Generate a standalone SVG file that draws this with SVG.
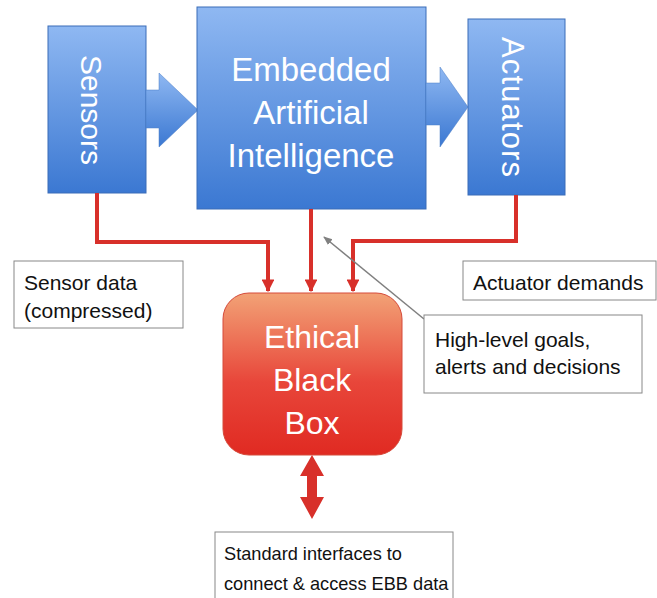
<svg xmlns="http://www.w3.org/2000/svg" width="657" height="598" viewBox="0 0 657 598">
<defs>
<linearGradient id="blue" x1="0" y1="0" x2="0" y2="1">
<stop offset="0" stop-color="#8fb8f2"/>
<stop offset="1" stop-color="#3b78d2"/>
</linearGradient>
<linearGradient id="red" x1="0" y1="0" x2="0" y2="1">
<stop offset="0" stop-color="#f2a276"/>
<stop offset="0.55" stop-color="#e8463a"/>
<stop offset="1" stop-color="#e02a22"/>
</linearGradient>
<marker id="rh" viewBox="0 0 10 10" refX="9" refY="5" markerWidth="3.2" markerHeight="3.2" orient="auto" markerUnits="strokeWidth">
<path d="M0,0 L10,5 L0,10 Z" fill="#d8302a"/>
</marker>
<marker id="gh" viewBox="0 0 10 10" refX="9" refY="5" markerWidth="6" markerHeight="6" orient="auto" markerUnits="strokeWidth">
<path d="M0,1 L10,5 L0,9 Z" fill="#808080"/>
</marker>
</defs>
<style>
.bx{fill:url(#blue);stroke:#3a6db8;stroke-width:1}
.wt{font-family:"Liberation Sans",Arial,sans-serif;fill:#fff;text-anchor:middle}
.lbl{fill:#fff;stroke:#888;stroke-width:1}
.lt{font-family:"Liberation Sans",Arial,sans-serif;fill:#111;font-size:21px}
.lt.sm{font-size:18.2px}
.red{fill:none;stroke:#d8302a;stroke-width:4;marker-end:url(#rh)}
</style>
<rect width="657" height="598" fill="#fff"/>

<g id="sensors">
<rect class="bx" x="48" y="26" width="98" height="167"/>
<text class="wt" font-size="30" transform="translate(81,110) rotate(90)" x="0" y="0">Sensors</text>
</g>
<g id="sensors-arrow">
<path d="M146,90 L159,90 L159,73 L198,110 L159,147 L159,128 L146,128 Z" fill="url(#blue)" stroke="#4a7cc4" stroke-width="0.5"/>
</g>
<g id="eai">
<rect class="bx" x="197" y="7" width="229" height="202"/>
<text class="wt" font-size="33" x="311" y="81">Embedded</text>
<text class="wt" font-size="33" x="311" y="124">Artificial</text>
<text class="wt" font-size="33" x="311" y="167">Intelligence</text>
</g>
<g id="eai-arrow">
<path d="M426,83 L440,83 L440,67 L468,107 L440,147 L440,125 L426,125 Z" fill="url(#blue)" stroke="#4a7cc4" stroke-width="0.5"/>
</g>
<g id="actuators">
<rect class="bx" x="468" y="19" width="97" height="176"/>
<text class="wt" font-size="31" transform="translate(502,107) rotate(90)" x="0" y="0" textLength="140" lengthAdjust="spacing">Actuators</text>
</g>

<g id="connectors">
<path class="red" d="M97,193 V242 H268 V291"/>
<path class="red" d="M311,209 V291"/>
<path class="red" d="M516,195 V241 H353 V291"/>
<line x1="424" y1="319" x2="324" y2="237" stroke="#808080" stroke-width="1.5" marker-end="url(#gh)"/>
<g id="ebb-link">
<path d="M312,455 L324,476 L317,476 L317,497 L324,497 L312,519 L300,497 L307,497 L307,476 L300,476 Z" fill="#d8302a"/>
</g>
</g>

<g id="ebb">
<rect x="223" y="293" width="179" height="162" rx="26" ry="26" fill="url(#red)" stroke="#d54a3a" stroke-width="1"/>
<text class="wt" font-size="32" x="312" y="348">Ethical</text>
<text class="wt" font-size="32" x="312" y="391">Black</text>
<text class="wt" font-size="32" x="312" y="434">Box</text>
</g>

<g id="sensor-data">
<rect class="lbl" x="14" y="261" width="169" height="67"/>
<text class="lt" x="24" y="290">Sensor data</text>
<text class="lt" x="24" y="318">(compressed)</text>
</g>
<g id="actuator-demands">
<rect class="lbl" x="463" y="261" width="193" height="39"/>
<text class="lt" x="473" y="290">Actuator demands</text>
</g>
<g id="high-level">
<rect class="lbl" x="424" y="315" width="218" height="78"/>
<text class="lt" x="435" y="347">High-level goals,</text>
<text class="lt" x="435" y="374">alerts and decisions</text>
</g>
<g id="standard">
<rect class="lbl" x="215" y="532" width="238" height="80"/>
<text class="lt sm" x="224" y="560">Standard interfaces to</text>
<text class="lt sm" x="224" y="590">connect &amp; access EBB data</text>
</g>
</svg>
